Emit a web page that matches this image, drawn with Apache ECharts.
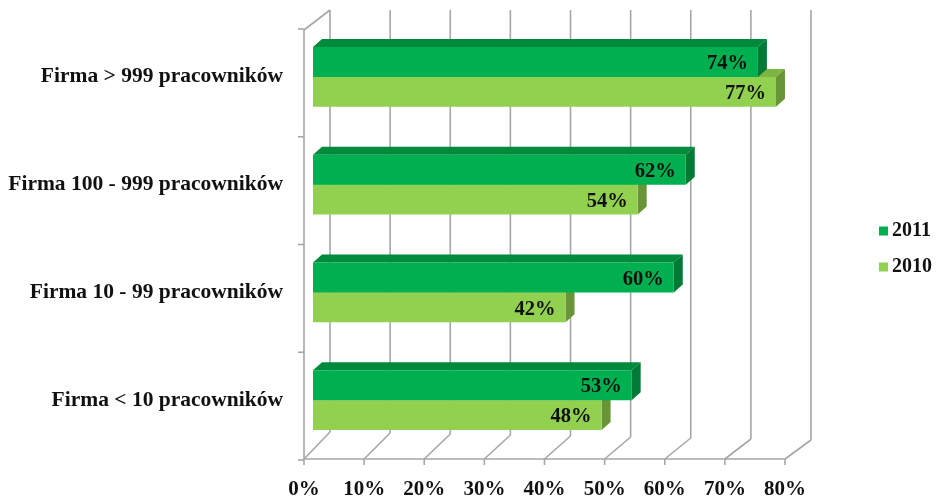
<!DOCTYPE html>
<html><head><meta charset="utf-8">
<script src="https://cdn.jsdelivr.net/npm/echarts@6/dist/echarts.min.js"></script>
<style>html,body{margin:0;padding:0;background:#fff}#c{width:938px;height:496px}</style>
</head><body><div id="c"></div>
<script>
const categories = ['Firma < 10 pracowników', 'Firma 10 - 99 pracowników', 'Firma 100 - 999 pracowników', 'Firma > 999 pracowników'];
const values2011 = [53, 60, 62, 74];
const values2010 = [48, 42, 54, 77];
const xTicks = [0, 10, 20, 30, 40, 50, 60, 70, 80];

const FONT = '"Liberation Serif","Times New Roman",serif';
const GRID_COLOR = '#A6A6A6';
const DX = 9, DY = -8;

function barRenderer(upper, front, top, side) {
  return function (params, api) {
    const cat = api.value(1), v = api.value(0);
    const p0 = api.coord([0, cat]);
    const p1 = api.coord([v, cat]);
    const band = api.size([0, 1])[1];
    const h = band * 0.278;
    const y0 = upper ? p0[1] - h : p0[1];
    const y1 = upper ? p0[1] : p0[1] + h;
    const x0 = p0[0], x1 = p1[0];
    return {
      type: 'group',
      children: [
        { type: 'polygon', shape: { points: [[x0, y0], [x0 + DX, y0 + DY], [x1 + DX, y0 + DY], [x1, y0]] }, style: { fill: top } },
        { type: 'polygon', shape: { points: [[x1, y0], [x1 + DX, y0 + DY], [x1 + DX, y1 + DY], [x1, y1]] }, style: { fill: side } },
        { type: 'rect', shape: { x: x0, y: y0, width: x1 - x0, height: y1 - y0 }, style: { fill: front } },
        { type: 'text', style: { text: v + '%', x: x1 - 10, y: (y0 + y1) / 2 + 2, align: 'right', verticalAlign: 'middle', font: 'bold 20.5px ' + FONT, fill: '#111' } }
      ]
    };
  };
}

function frameRenderer(params, api) {
  const cs = params.coordSys;
  const v = api.value(0);
  const maxV = xTicks[xTicks.length - 1];
  const xc = api.coord([v, 0])[0];
  const xf = xc - 9;
  const yf = cs.y + cs.height + 5;
  const xb = xc + 17;
  const ybTop = cs.y - 13;
  const ybBot = cs.y + cs.height - 22 + 8 * (v / maxV);
  const ls = { stroke: GRID_COLOR, lineWidth: 1.6 };
  const children = [
    { type: 'line', shape: { x1: xb, y1: ybTop, x2: xb, y2: ybBot }, style: ls },
    { type: 'line', shape: { x1: xf, y1: yf, x2: xb, y2: ybBot }, style: ls },
    { type: 'line', shape: { x1: xf, y1: yf, x2: xf, y2: yf + 6 }, style: ls }
  ];
  if (params.dataIndex === 0) {
    const xEnd = api.coord([maxV, 0])[0] - 9;
    children.push({ type: 'line', shape: { x1: xf, y1: yf, x2: xEnd, y2: yf }, style: ls });
    children.push({ type: 'line', shape: { x1: xf, y1: cs.y + 7, x2: xf, y2: yf }, style: ls });
    children.push({ type: 'line', shape: { x1: xf, y1: cs.y + 7, x2: xb, y2: ybTop }, style: ls });
    const band = cs.height / categories.length;
    for (let i = 0; i <= categories.length; i++) {
      const yy = cs.y + i * band + 6;
      children.push({ type: 'line', shape: { x1: xf - 6, y1: yy, x2: xf, y2: yy }, style: ls });
    }
  }
  return { type: 'group', children };
}

const chart = echarts.init(document.getElementById('c'));
chart.setOption({
  animation: false,
  backgroundColor: '#fff',
  grid: { left: 313, right: 144, top: 23, bottom: 42, containLabel: false, outerBoundsMode: 'none' },
  xAxis: {
    type: 'value', min: 0, max: 80, interval: 10,
    axisLine: { show: false }, axisTick: { show: false }, splitLine: { show: false },
    axisLabel: { formatter: '{value}%', margin: 25, padding: [0, 18, 0, 0], color: '#111', fontFamily: FONT, fontWeight: 'bold', fontSize: 21 }
  },
  yAxis: {
    type: 'category', data: categories,
    axisLine: { show: false }, axisTick: { show: false }, splitLine: { show: false },
    axisLabel: { margin: 30, padding: [16, 0, 0, 0], color: '#111', fontFamily: FONT, fontWeight: 'bold', fontSize: 21.5 }
  },
  legend: {
    orient: 'vertical', left: 874, top: 216, itemWidth: 9, itemHeight: 9, itemGap: 16,
    icon: 'rect', data: ['2011', '2010'],
    textStyle: { fontFamily: FONT, fontWeight: 'bold', fontSize: 20, color: '#111', padding: [0, 0, 0, -1] }
  },
  series: [
    { name: 'frame', type: 'custom', silent: true, z: 1, data: xTicks.map(v => [v, 0]), encode: { x: 0, y: 1 }, renderItem: frameRenderer },
    { name: '2010', type: 'custom', z: 2, itemStyle: { color: '#92D050' }, data: values2010.map((v, i) => [v, i]), encode: { x: 0, y: 1 }, renderItem: barRenderer(false, '#92D050', '#7DB545', '#679538') },
    { name: '2011', type: 'custom', z: 3, itemStyle: { color: '#00B050' }, data: values2011.map((v, i) => [v, i]), encode: { x: 0, y: 1 }, renderItem: barRenderer(true, '#00B050', '#008A3C', '#007A35') }
  ]
});
</script></body></html>
